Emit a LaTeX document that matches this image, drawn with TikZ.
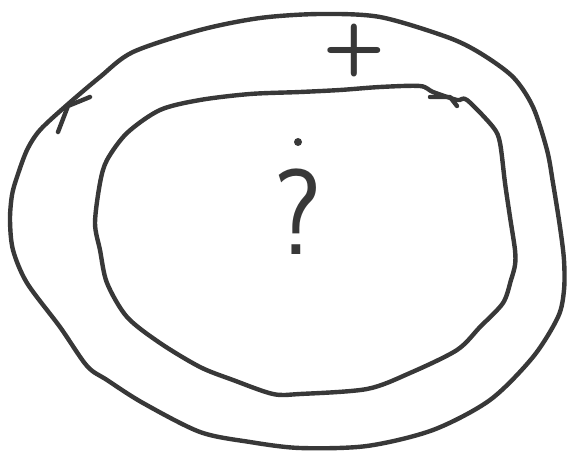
\documentclass[tikz,border=0pt]{standalone}
\usepackage{tikz}
\usetikzlibrary{calc}

\tikzset{
  pen/.style={line width=4.4pt,draw=black!78,line cap=round,line join=round},
  sign/.style={text=black!78,inner sep=0pt}
}

\begin{document}
\begin{tikzpicture}[x=1pt,y=-1pt]
            \useasboundingbox (0,0) rectangle (571,452);

            % Outer loop
            \draw[pen] plot[smooth cycle,tension=0.5] coordinates {
              (40,130) (67,105) (100,77) (133,52) (200,30) (260,18) (320,14)
              (380,17) (447,37) (480,53) (513,77) (533,107) (547,150) (553,183)
              (560,227) (564,260) (564,290) (558,317) (533,357) (490,400) (433,430)
              (367,446) (300,448) (250,442) (200,432) (143,403) (107,380) (87,366)
              (60,327) (27,283) (13,250) (10,220) (12,195) (17,177) (27,150)};
            \draw[pen] (58,132) -- (68,106) -- (90,97);

            % Inner loop
            \draw[pen] plot[smooth cycle,tension=0.5] coordinates {
              (200,100) (250,94) (300,92) (340,90) (380,87) (420,86) (433,92)
              (457,100) (467,100) (493,127) (500,143) (505,183) (510,217) (515,250)
              (515,265) (511,280) (503,303) (480,327) (457,350) (410,373) (367,389)
              (300,394) (273,394) (233,380) (200,367) (160,343) (127,317) (107,283)
              (100,250) (95,223) (100,183) (107,160) (127,133) (160,110)};
            \draw[pen] (430,97) -- (450,97) -- (457,106);

            % Signs
            \node[sign,font=\fontsize{72}{72}\selectfont\sffamily\bfseries] (plus) at (354,51) {+};
            \node[sign,font=\fontsize{122}{122}\selectfont\sffamily,xscale=0.9] (query) at (298,212) {?};
            \fill[black!78] (298,142) circle (4pt) coordinate (dot);
\end{tikzpicture}
\end{document}
